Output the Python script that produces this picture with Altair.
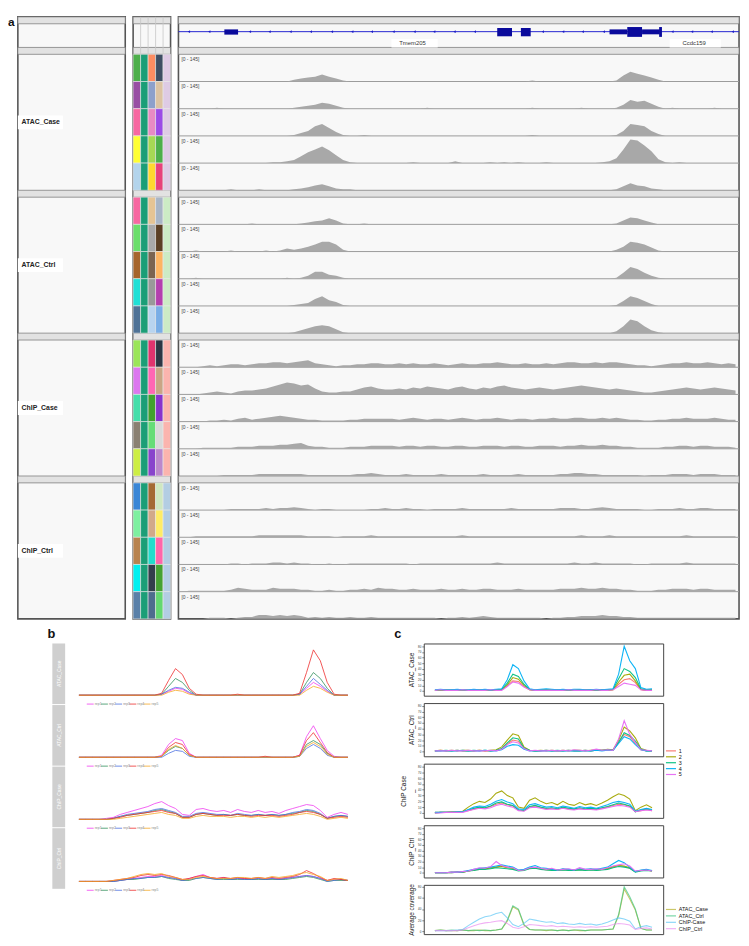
import altair as alt
import pandas as pd

# ======================= PANEL a : genome browser tracks =======================
GROUPS = ["ATAC_Case", "ATAC_Ctrl", "ChIP_Case", "ChIP_Ctrl"]
RANGE_LABEL = "[0 - 145]"
DATA_MAX = 145
N_BINS = 80

# ATAC coverage (reads, 80 genomic bins)
ATAC_CASE = [
    [0]*16 + [10,16,21,26,37,26,16,5] + [0]*24 + [0,0,5,0,0,0,0,0] + [0,0,0,0,0,0,5,32] + [52,42,32,21,10,0,0,0] + [0]*8,
    [0,0,0,0,0,5,0,0] + [0]*8 + [5,10,16,21,32,26,16,5] + [0]*8 + [0,0,0,5,0,0,0,0] + [0]*8 + [0,0,5,0,0,0,0,0] + [0,5,0,0,0,0,5,21] + [47,37,42,26,10,0,5,0] + [0,0,0,0,5,0,0,0],
    [0]*16 + [5,16,26,52,63,42,21,5] + [0,0,5,0,0,0,0,0] + [0]*16 + [0,0,5,0,0,0,0,0] + [0,0,0,0,0,0,5,26] + [63,58,52,26,10,0,0,0] + [0]*8,
    [0]*8 + [0,0,0,0,0,5,5,10] + [16,37,58,73,88,68,42,16] + [5,0,0,0,0,0,0,0] + [0,5,0,0,0,0,0,10] + [0,0,0,0,5,0,5,0] + [5,0,0,0,5,0,0,0] + [0,0,0,0,5,10,26,73] + [126,120,94,63,21,5,0,5] + [0]*8,
    [0,0,0,0,0,0,0,5] + [0,0,0,5,0,0,0,0] + [5,10,16,26,32,21,10,5] + [5,0,0,0,0,0,0,0] + [0]*24 + [0,0,0,0,0,0,5,21] + [37,26,21,10,5,0,0,0] + [0]*8,
]
ATAC_CTRL = [
    [0]*8 + [0,0,5,0,0,0,0,0] + [0,5,10,16,21,32,21,5] + [0,0,5,0,0,0,0,0] + [0]*24 + [0,0,0,0,0,0,5,21] + [37,32,21,10,0,0,0,0] + [0]*8,
    [0,0,5,0,0,0,0,5] + [0,0,0,0,5,0,5,16] + [10,16,26,37,52,52,37,10] + [0]*32 + [0,0,0,0,0,0,10,26] + [52,47,37,21,5,0,0,0] + [0]*8,
    [0,0,5,0,0,0,0,0] + [0,0,0,0,0,0,0,5] + [0,5,16,37,37,21,16,5] + [0]*32 + [0,0,0,0,0,0,5,32] + [63,52,32,16,5,0,0,0] + [0]*8,
    [0]*16 + [5,10,16,37,52,31,21,5] + [0]*32 + [0,0,0,0,0,0,5,26] + [52,42,26,10,0,0,0,0] + [0]*8,
    [0]*16 + [5,16,26,37,42,37,21,5] + [0]*32 + [0,0,0,0,0,0,10,37] + [73,63,37,16,5,0,0,0] + [0]*8,
]
# ChIP coverage read as pixel heights of a 27.6 px track (0-145 reads)
READS_PER_PX = 145 / 27.6
CHIP_CASE_PX = [
    [0,0,0,1,2,1,2,3,3,2,3,4,4,5,5,4,5,6,7,4,3,2,1,2,2,3,3,4,4,3] + [3,4,3,4,3,3,4,3,2,3,4,3,3,4,4,5,4,3,3,4,3,3,4,3,4,5,5,4,4,5,4,5,5,4,3,2,2,1,2,3,4,4,5,4,4,5,4,3,4,3],
    [0,0,0,1,2,3,2,1,3,4,4,5,6,8,10,12,11,9,10,6,3,2,2,3,3,5,7,8,6,5] + [5,6,5,7,6,8,7,6,5,7,8,6,5,7,6,8,9,7,6,5,6,7,6,5,6,7,8,9,8,7,6,5,6,5,4,3,2,2,3,4,5,6,7,6,5,6,7,6,5,4],
    [0,0,0,0,1,1,2,1,3,4,2,3,4,5,6,5,4,3,2,2,1,1,1,1,2,2,3,3,3,3] + [3,2,3,4,3,2,3,3,2,3,4,3,2,3,3,4,3,2,3,3,2,3,3,4,3,3,4,4,3,3,4,3,4,3,2,2,1,1,2,2,3,3,4,3,3,3,4,3,2,2],
    [0,0,0,1,1,1,1,1,2,2,2,3,3,3,4,4,5,6,3,2,2,1,1,1,2,2,2,3,3,3] + [3,2,3,3,2,3,3,2,2,3,3,2,2,3,3,3,2,3,3,2,2,3,3,3,2,3,3,4,3,3,4,3,3,2,2,1,1,1,1,2,2,3,3,2,3,3,2,2,2,1],
    [0,0,0,0,0,0,1,1,1,1,1,2,2,2,2,2,2,2,1,1,1,1,1,1,1,2,2,3,2,1] + [1,1,2,1,1,1,1,2,1,1,1,1,1,2,1,1,1,1,2,1,1,1,1,1,2,2,3,3,2,2,1,1,1,1,1,1,0,1,1,1,2,2,2,1,2,2,2,1,1,1],
]
CHIP_CTRL_PX = [
    [0,0,0,0,0,0,0,1,1,1,1,1,2,1,2,2,3,2,1,0,1,1,0,0,0,0,0,1,1,2] + [1,1,2,1,1,0,1,1,1,1,2,1,1,1,1,1,1,2,1,1,1,1,1,1,2,2,2,1,1,2,3,2,1,1,1,1,0,0,1,1,1,2,1,1,2,2,1,1,1,1],
    [0,0,1,1,1,1,1,1,1,1,1,2,2,2,2,2,2,2,1,1,1,1,0,1,1,1,1,2,1,1] + [1,1,1,1,1,1,1,1,1,1,2,1,1,1,1,1,1,1,1,1,1,1,1,1,1,1,1,2,1,1,1,2,1,1,1,1,1,1,1,1,1,1,2,1,1,1,1,1,1,1],
    [0,0,0,0,0,0,0,1,1,0,1,1,1,2,2,1,2,1,1,0,0,1,0,0,1,1,1,1,1,1] + [1,1,1,0,1,1,1,1,1,1,1,1,1,1,1,2,1,1,1,1,1,1,1,1,1,1,2,1,1,2,1,1,1,1,1,0,0,1,1,1,1,1,2,1,1,1,1,1,1,1],
    [0,1,1,1,1,1,1,2,4,3,2,2,2,4,3,3,3,2,2,1,1,2,1,1,2,2,3,2,4,3] + [3,2,2,3,2,2,2,3,2,2,3,2,2,3,3,2,2,2,3,2,2,2,2,2,3,3,3,4,3,3,4,3,3,2,2,1,1,1,2,2,3,3,3,2,3,3,2,2,2,2],
    [0,0,0,0,1,1,1,0,1,2,2,4,4,3,4,3,4,3,1,2,1,2,1,1,2,1,1,2,1,1] + [1,1,1,1,1,1,1,0,1,1,2,1,2,3,2,1,1,1,1,1,1,1,0,1,1,2,2,3,3,3,4,3,3,2,2,1,1,1,1,1,1,1,1,1,1,1,1,1,1,1],
]

# sample annotation colour blocks (4 per track + 1 per group)
TRACK_COLORS = [
    ["#4daf4a", "#1b9e77", "#fc8d62", "#3e4e63"], ["#984ea3", "#1b9e77", "#8da0cb", "#dcc3a2"],
    ["#f768a1", "#1b9e77", "#e78ac3", "#9b4ae6"], ["#ffff33", "#1b9e77", "#a6d854", "#4daf4a"],
    ["#b3d4ec", "#1b9e77", "#ffd92f", "#e7417a"],
    ["#f768a1", "#1b9e77", "#e5c494", "#a8b5c6"], ["#6bde6b", "#1b9e77", "#a9a9a9", "#5b3f24"],
    ["#a6652c", "#1b9e77", "#7b6451", "#fdb462"], ["#1fe0d6", "#1b9e77", "#999999", "#b43fae"],
    ["#4f7296", "#1b9e77", "#b8d4ef", "#79aee6"],
    ["#9be55a", "#1b9e77", "#e0336e", "#2e3644"], ["#dc77ef", "#1b9e77", "#ff67b4", "#c9a585"],
    ["#45deaa", "#1b9e77", "#42a12f", "#8833cc"], ["#8a8072", "#1b9e77", "#66dd77", "#d9d9d9"],
    ["#cdee44", "#1b9e77", "#8844cc", "#bb88cc"],
    ["#3a86d6", "#1b9e77", "#a46a34", "#cfe8c1"], ["#7ef0a0", "#1b9e77", "#d2a98a", "#ffec66"],
    ["#b8834f", "#1b9e77", "#22ddcc", "#ff66aa"], ["#00f0f0", "#1b9e77", "#333e4c", "#45a232"],
    ["#5a80a8", "#1b9e77", "#4e6d8e", "#63d870"],
]
GROUP_COLOR5 = ["#decbe4", "#ccebc5", "#fbb4ae", "#b3cde3"]

# gene model (positions in bins)
GENE_ARROWS = [1.0, 3.9, 9.7, 12.5, 15.5, 18.4, 21.4, 24.3, 27.1, 30.2, 33.2, 36.0, 38.9, 41.8,
               51.5, 54.4, 57.2, 60.2, 70.0, 72.8, 75.6, 78.6]
EXON_START = [6.05, 44.99, 48.37, 61.02, 63.55, 65.66, 68.10]
EXON_END = [8.01, 47.10, 49.77, 63.55, 65.66, 68.19, 68.50]
EXON_KIND = ["small", "exon", "exon", "utr", "cds", "utr", "cds"]
GENE_NAMES = ["Tmem205", "Ccdc159"]
GENE_NAME_POS = [32.9, 73.1]
GENE_BOX_START = [29.9, 69.6]
GENE_BOX_END = [36.5, 76.9]

# ======================= PANEL b =======================
B_REPS = ["rep1", "rep2", "rep3", "rep4", "rep5"]
B_PANELS = ["ATAC_Case", "ATAC_Ctrl", "ChIP_Case", "ChIP_Ctrl"]
B_VALUES = [
    [  # ATAC_Case
        [1,1,1,1,1,1,1,1,1,1,1,1,2,5,8,7,3,1,1,1,1,1,1,1,1,1,1,1,1,1,1,1,2,8,14,10,5,1,1,1],
        [1,1,1,1,1,1,1,1,1,1,1,1,2,10,18,14,6,1,1,1,1,1,1,1,1,1,1,1,1,1,1,1,2,14,24,18,8,1,1,1],
        [1,1,1,1,1,1,1,1,1,1,1,1,2,6,9,8,4,1,1,1,1,1,1,1,1,1,1,1,1,1,1,1,2,10,18,12,6,1,1,1],
        [1,1,1,1,1,1,1,1,1,1,1,1,3,16,28,22,8,2,1,1,1,1,1,2,1,1,1,1,1,1,1,1,3,24,47,36,14,2,1,1],
        [1,1,1,1,1,1,1,1,1,1,1,1,1,4,6,5,2,1,1,1,1,1,1,1,1,1,1,1,1,1,1,1,1,6,10,8,4,1,1,1],
    ],
    [  # ATAC_Ctrl
        [1,1,1,1,1,1,1,1,1,1,1,1,3,14,20,18,5,1,1,1,1,1,1,1,1,1,1,1,1,1,1,1,3,22,33,20,8,2,1,1],
        [1,1,1,1,1,1,1,1,1,1,1,1,2,8,12,10,3,1,1,1,1,1,1,1,1,1,1,1,1,1,1,1,2,14,18,14,5,1,1,1],
        [1,1,1,1,1,1,1,1,1,1,1,1,1,5,8,7,2,1,1,1,1,1,1,1,1,1,1,1,1,1,1,1,2,10,14,10,3,1,1,1],
        [1,1,1,1,1,1,1,1,1,1,1,1,2,11,16,14,4,1,1,1,1,1,1,1,1,1,1,2,1,1,1,1,3,18,26,16,6,1,1,1],
        [1,1,1,1,1,1,1,1,1,1,1,1,2,9,13,10,3,1,1,1,1,1,1,1,1,1,1,1,1,1,1,1,2,12,16,12,4,1,1,1],
    ],
    [  # ChIP_Case
        [1,1,1,1,2,3,6,8,10,12,14,17,19,15,12,6,5,11,12,10,9,10,8,11,9,8,10,8,9,7,10,12,14,16,15,10,3,6,8,6],
        [1,1,1,1,1,2,4,5,6,7,8,10,11,9,7,3,3,6,7,6,5,6,5,6,5,5,6,5,6,5,6,7,8,10,9,6,2,4,5,4],
        [1,1,1,1,1,2,4,6,7,8,9,11,12,10,8,4,4,7,8,7,6,6,5,7,6,5,6,5,6,5,6,8,9,11,10,7,2,4,5,4],
        [1,1,1,1,1,2,3,5,6,7,8,9,10,8,7,3,3,6,7,6,5,5,5,6,5,4,5,5,5,4,5,6,8,9,8,6,2,3,4,3],
        [1,1,1,1,1,1,2,3,4,5,6,7,8,6,5,2,2,4,5,4,4,4,3,4,4,3,4,3,4,3,4,5,6,7,6,4,1,2,3,2],
    ],
    [  # ChIP_Ctrl
        [1,1,1,1,1,1,2,3,4,5,6,6,7,5,4,2,4,6,8,5,4,5,3,4,4,3,4,3,4,3,4,5,6,7,6,4,2,3,3,2],
        [1,1,1,1,1,1,2,3,3,4,5,5,6,4,3,2,2,4,5,4,3,3,3,3,3,3,3,3,3,3,3,4,5,6,5,3,1,2,2,2],
        [1,1,1,1,1,1,2,3,4,4,5,5,6,5,4,2,3,4,5,4,3,4,3,4,3,3,4,3,4,3,4,5,6,7,6,4,1,2,3,2],
        [1,1,1,1,1,2,3,4,5,7,8,7,8,7,5,3,4,6,7,5,4,5,4,5,4,4,5,4,5,4,5,6,8,12,9,5,2,4,3,2],
        [1,1,1,1,1,2,3,4,6,8,9,8,9,6,5,3,3,5,6,5,4,4,4,5,5,4,5,4,6,5,6,7,9,10,8,6,2,3,4,2],
    ],
]
B_COLORS = ["#f03cf0", "#2f8f5a", "#4a6fe0", "#ee2b2b", "#f5a623"]

# ======================= PANEL c =======================
C_REPS = ["1", "2", "3", "4", "5"]
C_COLORS = ["#F8766D", "#A3A500", "#00BF7D", "#00B0F6", "#E76BF3"]
C_TITLES = ["ATAC_Case", "ATAC_Ctrl", ["ChIP Case", "_"], "ChIP_Ctrl"]
C_VALUES = [
    [  # ATAC_Case
        [1,1,1,1,2,1,1,1,1,2,1,1,2,9,18,17,8,2,1,1,1,2,1,1,1,1,1,2,1,1,1,1,2,12,20,22,15,2,1,1],
        [1,1,2,1,1,2,1,1,2,1,1,2,2,11,24,21,10,2,1,1,2,1,1,2,1,1,2,1,1,1,2,1,2,16,28,30,18,3,1,2],
        [1,2,1,2,1,2,1,2,1,2,1,2,3,14,30,26,12,3,1,2,2,1,2,1,2,1,2,1,2,1,2,2,3,22,40,35,24,4,2,2],
        [2,3,2,2,3,2,2,3,2,3,2,3,4,20,47,40,18,4,2,3,4,3,2,3,2,3,3,2,2,3,2,3,4,30,80,54,40,6,3,4],
        [1,2,1,1,1,2,1,1,1,1,2,1,1,8,16,14,7,2,1,1,1,1,1,1,2,1,1,1,1,2,1,1,2,8,14,12,10,2,1,1],
    ],
    [  # ATAC_Ctrl
        [1,2,1,1,2,1,1,1,2,1,1,2,4,13,20,18,5,2,1,1,2,1,1,1,2,1,1,2,1,2,2,2,3,16,30,26,14,3,1,1],
        [1,2,1,2,1,2,2,1,2,1,2,3,8,20,31,28,8,2,1,2,1,2,1,2,1,2,2,1,2,3,2,4,3,20,43,36,24,5,2,1],
        [1,1,2,1,2,1,1,2,1,2,1,2,5,15,24,22,6,2,1,1,2,1,2,1,2,1,1,2,1,2,2,3,2,16,33,28,18,4,1,1],
        [1,1,1,1,1,2,1,1,1,2,1,1,3,9,12,11,4,1,1,1,1,1,1,1,1,1,1,1,1,2,1,2,2,14,26,22,12,3,1,1],
        [1,1,1,2,1,1,2,1,1,1,2,1,4,12,17,15,5,1,2,1,1,2,1,2,1,3,2,1,2,4,2,3,2,22,54,30,16,3,2,1],
    ],
    [  # ChIP_Case
        [0,1,1,1,1,2,4,7,9,8,11,15,17,14,12,5,4,10,12,9,7,8,6,9,7,6,8,6,7,6,8,10,13,15,14,11,2,4,6,4],
        [1,1,1,2,2,3,10,16,20,18,24,34,38,30,26,10,8,22,26,20,16,18,14,20,15,13,18,14,16,13,17,22,28,33,30,24,4,10,14,9],
        [0,1,1,1,1,2,5,8,10,9,12,17,19,15,13,5,4,11,13,10,8,9,7,10,8,7,9,7,8,7,9,11,14,17,15,12,2,5,7,5],
        [1,1,1,1,2,2,6,10,12,11,15,20,23,19,16,7,6,14,16,13,10,11,9,12,10,8,11,9,10,8,11,14,18,20,18,15,3,6,8,6],
        [0,0,1,1,1,1,4,6,8,7,9,13,15,12,10,4,3,9,10,8,6,7,6,8,6,5,7,6,6,5,7,9,11,13,12,10,2,4,5,4],
    ],
    [  # ChIP_Ctrl
        [0,0,0,0,1,1,3,5,6,7,9,10,12,10,8,4,5,8,9,7,5,6,4,6,5,5,6,5,6,5,6,7,10,13,11,8,2,4,5,3],
        [0,0,0,1,1,1,3,5,7,7,8,10,11,9,8,4,5,8,9,7,6,5,5,6,5,4,6,5,6,5,6,8,11,13,12,9,2,4,5,3],
        [0,0,0,0,1,1,3,4,6,6,7,9,8,7,6,3,4,7,8,6,5,4,4,5,4,4,5,4,5,4,5,6,9,11,10,8,1,3,4,3],
        [0,0,0,1,1,2,4,6,8,9,10,12,14,12,10,5,6,10,13,9,8,6,5,7,6,5,7,6,7,6,8,10,16,22,18,10,2,5,6,4],
        [0,0,0,1,1,2,3,6,9,8,11,20,13,10,9,4,5,9,10,8,6,8,5,6,7,5,9,6,6,7,6,9,12,14,16,12,3,4,5,3],
    ],
]
AVG_NAMES = ["ATAC_Case", "ATAC_Ctrl", "ChIP-Case", "ChIP_Ctrl"]
AVG_COLORS = ["#b5b02a", "#3cc47f", "#5cc6f5", "#ea8ef0"]
AVG_VALUES = [
    [1,2,1,1,1,2,1,1,2,1,1,2,4,18,44,38,11,3,2,2,1,2,1,2,1,2,1,1,2,2,2,3,4,28,76,58,38,5,2,2],
    [1,2,1,2,1,2,1,2,1,2,1,2,4,20,46,40,12,3,2,2,2,2,1,2,1,2,2,1,2,2,2,3,4,30,80,62,40,5,2,2],
    [1,1,1,1,2,3,10,16,22,26,28,32,34,24,12,8,14,22,20,18,16,17,14,15,13,12,14,12,13,11,13,16,20,24,22,18,4,8,10,7],
    [1,1,1,1,1,2,6,10,13,15,16,18,19,14,7,5,8,12,11,10,9,10,8,9,8,7,8,7,8,7,8,9,12,14,13,11,3,5,6,4],
]
PANEL_LETTERS = ["a", "b", "c"]

# ======================= layout of panel a =======================
TRACK_H = 27.6
GAP_H = 7
HEAD_H = 38
H_A = HEAD_H + 4 * 5 * TRACK_H + 3 * GAP_H
W_LEFT, W_COL, W_TRK = 109, 38, 569

track_rows, cov_rows, cell_rows = [], [], []
for g, name in enumerate(GROUPS):
    for t in range(5):
        tid = g * 5 + t
        top = HEAD_H + g * (5 * TRACK_H + GAP_H) + t * TRACK_H
        bottom = top + TRACK_H
        track_rows.append(dict(tid=tid, group=name, top=top, bottom=bottom, last=(t == 4), label=RANGE_LABEL))
        if g == 0:
            vals = ATAC_CASE[t]
        elif g == 1:
            vals = ATAC_CTRL[t]
        elif g == 2:
            vals = [p * READS_PER_PX for p in CHIP_CASE_PX[t]]
        else:
            vals = [p * READS_PER_PX for p in CHIP_CTRL_PX[t]]
        assert len(vals) == N_BINS, (g, t, len(vals))
        for i, v in enumerate(vals):
            cov_rows.append(dict(tid=tid, pos=i, reads=v, base=bottom))
        cols = TRACK_COLORS[tid] + [GROUP_COLOR5[g]]
        for c, hexcol in enumerate(cols):
            cell_rows.append(dict(c0=c, c1=c + 1, top=top, bottom=bottom, hex=hexcol))
tracks = pd.DataFrame(track_rows)
cov = pd.DataFrame(cov_rows)
cells = pd.DataFrame(cell_rows)

bar_rows = [dict(y0=0, y1=7), dict(y0=31, y1=HEAD_H)]
for g in range(3):
    y0 = HEAD_H + (g + 1) * 5 * TRACK_H + g * GAP_H
    bar_rows.append(dict(y0=y0, y1=y0 + GAP_H))
bars = pd.DataFrame(bar_rows)

labels = pd.DataFrame([dict(group=n, ymid=HEAD_H + g * (5 * TRACK_H + GAP_H) + 2.5 * TRACK_H)
                       for g, n in enumerate(GROUPS)])
labels["b0"] = labels["ymid"] - 7
labels["b1"] = labels["ymid"] + 7

YS = alt.Scale(domain=[0, H_A], reverse=True, nice=False, zero=False)
PANEL_VIEW = dict(fill="#f8f8f8", stroke="#555555", strokeWidth=1.6)


def bar_layer(xdom):
    bdf = bars.assign(x0=xdom[0], x1=xdom[1])
    return alt.Chart(bdf).mark_rect(fill="#e2e2e2", stroke="#808080", strokeWidth=0.8).encode(
        x=alt.X("x0:Q", scale=alt.Scale(domain=xdom, nice=False, zero=False), axis=None), x2="x1:Q",
        y=alt.Y("y0:Q", scale=YS, axis=None), y2="y1:Q")


a_chart = alt.Chart(pd.DataFrame({"t": [PANEL_LETTERS[0]]})).mark_text(
    fontSize=12, fontWeight="bold", align="left", baseline="top", color="#111").encode(
    x=alt.value(0), y=alt.value(0), text="t:N").properties(width=6, height=H_A)

LX = [0, 1]
lab = labels.assign(x0=0.0, x1=0.42, xt=0.035)
left_col = alt.layer(
    bar_layer(LX),
    alt.Chart(lab).mark_rect(fill="white").encode(
        x=alt.X("x0:Q", scale=alt.Scale(domain=LX, nice=False, zero=False), axis=None), x2="x1:Q",
        y=alt.Y("b0:Q", scale=YS, axis=None), y2="b1:Q"),
    alt.Chart(lab).mark_text(fontSize=7, fontWeight="bold", align="left", color="#222").encode(
        x=alt.X("xt:Q", scale=alt.Scale(domain=LX, nice=False, zero=False), axis=None),
        y=alt.Y("ymid:Q", scale=YS, axis=None), text="group:N"),
).properties(width=W_LEFT, height=H_A, view=alt.ViewBackground(**PANEL_VIEW))

CX = [0, 5]
hdr_lines = pd.DataFrame({"c": [1, 2, 3, 4], "y0": [0] * 4, "y1": [HEAD_H] * 4})
color_col = alt.layer(
    bar_layer(CX),
    alt.Chart(hdr_lines).mark_rule(color="#c8c8c8", strokeWidth=0.8).encode(
        x=alt.X("c:Q", scale=alt.Scale(domain=CX, nice=False, zero=False), axis=None),
        y=alt.Y("y0:Q", scale=YS, axis=None), y2="y1:Q"),
    alt.Chart(cells).mark_rect(stroke="#e8e8e8", strokeWidth=0.6).encode(
        x=alt.X("c0:Q", scale=alt.Scale(domain=CX, nice=False, zero=False), axis=None), x2="c1:Q",
        y=alt.Y("top:Q", scale=YS, axis=None), y2="bottom:Q",
        fill=alt.Fill("hex:N", scale=None)),
).properties(width=W_COL, height=H_A, view=alt.ViewBackground(**PANEL_VIEW))

TX = [-0.5, N_BINS - 0.5]
XS_T = alt.Scale(domain=TX, nice=False, zero=False)
exons = pd.DataFrame({"s": EXON_START, "e": EXON_END, "kind": EXON_KIND})
exon_y = {"small": (12.7, 18.0), "exon": (11.3, 19.7), "utr": (12.7, 17.7), "cds": (10.3, 20.3)}
exons["y0"] = [exon_y[k][0] for k in EXON_KIND]
exons["y1"] = [exon_y[k][1] for k in EXON_KIND]
arrows = pd.DataFrame({"pos": GENE_ARROWS, "y": [15] * len(GENE_ARROWS)})
gline = pd.DataFrame({"x0": [TX[0]], "x1": [TX[1]], "y": [15]})
gnames = pd.DataFrame({"name": GENE_NAMES, "pos": GENE_NAME_POS, "b0": GENE_BOX_START, "b1": GENE_BOX_END,
                       "y": [27] * 2, "y0": [22.5] * 2, "y1": [31] * 2})
seps = tracks[~tracks["last"]].assign(x0=TX[0], x1=TX[1])
tlabels = tracks.assign(x0=TX[0])

track_col = alt.layer(
    bar_layer(TX),
    alt.Chart(gnames).mark_rect(fill="white").encode(
        x=alt.X("b0:Q", scale=XS_T, axis=None), x2="b1:Q", y=alt.Y("y0:Q", scale=YS, axis=None), y2="y1:Q"),
    alt.Chart(gnames).mark_text(fontSize=6, color="#333").encode(
        x=alt.X("pos:Q", scale=XS_T, axis=None), y=alt.Y("y:Q", scale=YS, axis=None), text="name:N"),
    alt.Chart(gline).mark_rule(color="#2424d0", strokeWidth=1).encode(
        x=alt.X("x0:Q", scale=XS_T, axis=None), x2="x1:Q", y=alt.Y("y:Q", scale=YS, axis=None)),
    alt.Chart(arrows).mark_point(shape="triangle-left", filled=True, size=7, color="#1c1cc8", opacity=1).encode(
        x=alt.X("pos:Q", scale=XS_T, axis=None), y=alt.Y("y:Q", scale=YS, axis=None)),
    alt.Chart(exons).mark_rect(color="#0a0a9c").encode(
        x=alt.X("s:Q", scale=XS_T, axis=None), x2="e:Q", y=alt.Y("y0:Q", scale=YS, axis=None), y2="y1:Q"),
    alt.Chart(seps).mark_rule(color="#9a9a9a", strokeWidth=1).encode(
        x=alt.X("x0:Q", scale=XS_T, axis=None), x2="x1:Q", y=alt.Y("bottom:Q", scale=YS, axis=None)),
    alt.Chart(cov).transform_calculate(ytop=f"datum.base - datum.reads * {TRACK_H / DATA_MAX}").mark_area(
        color="#a8a8a8", interpolate="linear").encode(
        x=alt.X("pos:Q", scale=XS_T, axis=None), y=alt.Y("ytop:Q", scale=YS, axis=None), y2="base:Q",
        detail="tid:N"),
    alt.Chart(tlabels).mark_text(fontSize=5, align="left", baseline="top", color="#444", dx=3, dy=3).encode(
        x=alt.X("x0:Q", scale=XS_T, axis=None), y=alt.Y("top:Q", scale=YS, axis=None), text="label:N"),
).properties(width=W_TRK, height=H_A, view=alt.ViewBackground(**PANEL_VIEW))

panel_a = alt.hconcat(a_chart, alt.hconcat(left_col, color_col, track_col, spacing=4), spacing=1)

# ======================= row of panel letters b / c =======================
letters = pd.DataFrame({"t": PANEL_LETTERS[1:], "px": [40, 392]})
letters_row = alt.Chart(letters).mark_text(
    fontSize=13, fontWeight="bold", align="left", baseline="bottom", color="#111").encode(
    x=alt.X("px:Q", scale=alt.Scale(domain=[0, 700], range=[0, 700]), axis=None),
    y=alt.value(20), text="t:N").properties(width=700, height=20)

# ======================= panel b =======================
B_H = 62.5
B_W = 288
BXS = alt.Scale(domain=[-1.857, 39.286], nice=False, zero=False)
BYS = alt.Scale(domain=[-9, B_H - 9], nice=False, zero=False)
b_leg = pd.DataFrame({"name": B_REPS, "hex": B_COLORS,
                      "x0": [1.14 + 2.06 * k for k in range(5)], "y": [-8] * 5})
b_leg["x1"] = b_leg["x0"] + 1.0
b_leg["xt"] = b_leg["x0"] + 1.15

b_charts = []
for p, name in enumerate(B_PANELS):
    rows = []
    for r, rep in enumerate(B_REPS):
        vals = B_VALUES[p][r]
        assert len(vals) == 40
        for i, v in enumerate(vals):
            rows.append(dict(rep=rep, hex=B_COLORS[r], pos=i, v=v))
    bdf = pd.DataFrame(rows)
    b_charts.append(alt.layer(
        alt.Chart(bdf).mark_line(strokeWidth=0.8).encode(
            x=alt.X("pos:Q", scale=BXS, axis=None), y=alt.Y("v:Q", scale=BYS, axis=None),
            color=alt.Color("hex:N", scale=None), detail="rep:N"),
        alt.Chart(b_leg).mark_rule(strokeWidth=0.8).encode(
            x=alt.X("x0:Q", scale=BXS, axis=None), x2="x1:Q", y=alt.Y("y:Q", scale=BYS, axis=None),
            color=alt.Color("hex:N", scale=None)),
        alt.Chart(b_leg).mark_text(fontSize=3.5, align="left", color="#888").encode(
            x=alt.X("xt:Q", scale=BXS, axis=None), y=alt.Y("y:Q", scale=BYS, axis=None), text="name:N"),
    ).properties(width=B_W, height=B_H))
b_lines = alt.vconcat(*b_charts, spacing=0)

strip = pd.DataFrame({"name": B_PANELS, "y0": [i * B_H for i in range(4)], "y1": [(i + 1) * B_H - 1 for i in range(4)]})
strip["ym"] = (strip.y0 + strip.y1) / 2
strip["x0"] = 0.0
strip["x1"] = 1.0
strip["xm"] = 0.5
SYS = alt.Scale(domain=[0, 4 * B_H], reverse=True, nice=False, zero=False)
SXS = alt.Scale(domain=[0, 1], nice=False, zero=False)
b_strip = alt.layer(
    alt.Chart(strip).mark_rect(fill="#cfcfcf").encode(
        x=alt.X("x0:Q", scale=SXS, axis=None), x2="x1:Q",
        y=alt.Y("y0:Q", scale=SYS, axis=None), y2="y1:Q"),
    alt.Chart(strip).mark_text(angle=270, fontSize=5, color="white").encode(
        x=alt.X("xm:Q", scale=SXS, axis=None), y=alt.Y("ym:Q", scale=SYS, axis=None), text="name:N"),
).properties(width=13, height=4 * B_H)

spacer = alt.Chart(pd.DataFrame({"x": [0]})).mark_point(opacity=0).encode(
    x=alt.X("x:Q", axis=None), y=alt.Y("x:Q", axis=None)).properties(width=44, height=1)
b_block = alt.hconcat(spacer, b_strip, b_lines, spacing=1)

# ======================= panel c =======================
C_W = 243
C_HEIGHTS = [53, 54, 55, 53, 50]
XCS = alt.Scale(domain=[-2, 41], nice=False, zero=False)
C_VIEW = alt.ViewBackground(fill="white", stroke="#444444", strokeWidth=1)


def c_axis(title, values):
    return alt.Axis(values=values, title=title, labelFontSize=3, tickSize=2, tickWidth=0.6, domain=False,
                    grid=False, titleFontSize=6.5, titleFontWeight="normal", titleColor="#111",
                    labelColor="#333", tickColor="#333", labelPadding=1, titlePadding=3)


c_leg = pd.DataFrame({"name": C_REPS, "hex": C_COLORS, "y": [1.0, -9.4, -19.8, -30.2, -40.5],
                      "x0": [41.5] * 5, "x1": [43.3] * 5, "xt": [43.8] * 5})
a_leg = pd.DataFrame({"name": AVG_NAMES, "hex": AVG_COLORS, "y": [39.2, 27.6, 16.0, 4.5],
                      "x0": [41.5] * 4, "x1": [43.3] * 4, "xt": [43.8] * 4})

c_charts = []
for p in range(5):
    rows = []
    if p < 4:
        ycs = alt.Scale(domain=[-8.5, 85], nice=False, zero=False)
        ax = c_axis(C_TITLES[p], list(range(0, 81, 10)))
        for r, rep in enumerate(C_REPS):
            vals = C_VALUES[p][r]
            assert len(vals) == 40
            for i, v in enumerate(vals):
                rows.append(dict(rep=rep, hex=C_COLORS[r], pos=i, v=v))
        op, sw = 0.95, 1.1
    else:
        ycs = alt.Scale(domain=[-5.3, 83.6], nice=False, zero=False)
        ax = c_axis("Average coverage", [0, 20, 40, 60, 80])
        for k, nm in enumerate(AVG_NAMES):
            assert len(AVG_VALUES[k]) == 40
            for i, v in enumerate(AVG_VALUES[k]):
                rows.append(dict(rep=nm, hex=AVG_COLORS[k], pos=i, v=v))
        op, sw = 0.7, 1.1
    cdf = pd.DataFrame(rows)
    layers = [alt.Chart(cdf).mark_line(strokeWidth=sw, opacity=op).encode(
        x=alt.X("pos:Q", scale=XCS, axis=None), y=alt.Y("v:Q", scale=ycs, axis=ax),
        color=alt.Color("hex:N", scale=None), detail="rep:N")]
    if p in (1, 4):
        leg = c_leg if p == 1 else a_leg
        layers.append(alt.Chart(leg).mark_rule(strokeWidth=1.2, opacity=op).encode(
            x=alt.X("x0:Q", scale=XCS, axis=None), x2="x1:Q", y=alt.Y("y:Q", scale=ycs, axis=ax),
            color=alt.Color("hex:N", scale=None)))
        layers.append(alt.Chart(leg).mark_text(fontSize=5.5, align="left", color="#111").encode(
            x=alt.X("xt:Q", scale=XCS, axis=None), y=alt.Y("y:Q", scale=ycs, axis=ax), text="name:N"))
    c_charts.append(alt.layer(*layers).properties(width=C_W, height=C_HEIGHTS[p], view=C_VIEW))

c_block = alt.vconcat(*c_charts, spacing=7.5, bounds="flush")

row2 = alt.hconcat(b_block, c_block, spacing=50)

chart = alt.vconcat(panel_a, letters_row, row2, spacing=0).properties(
    padding={"left": 0, "top": 0, "right": 0, "bottom": 0}
).configure(font="Liberation Sans").configure_view(stroke=None)

chart.save("out.html", embed_options={"renderer": "svg", "actions": False})
